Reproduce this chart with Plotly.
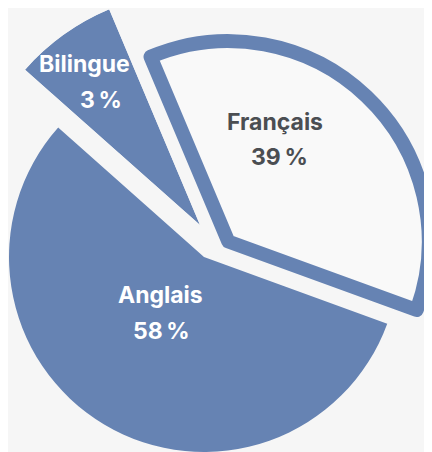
import math
import plotly.graph_objects as go

# ---- data ----
categories = ["Français", "Bilingue", "Anglais"]   # counter-clockwise order on the chart
percent = [39, 3, 58]                             # values printed on the chart
drawn_share = [36.9, 7.1, 56.0]                   # slice sizes as drawn in the picture (% of the circle)
start_angle = -20.0                               # start of first slice, degrees ccw from 3 o'clock

# ---- style / layout ----
PAGE_W, PAGE_H = 432, 452
OFF = 8                     # default page margin of the html body
W, H = PAGE_W - OFF, PAGE_H - OFF
BLUE = "#6683b3"
BG = "#f6f6f6"
FR_FILL = "#f9f9f9"
DARK = "#4b4e52"
FONT = "Inter"

# apex (page px) and radius (px) of each slice
apex = {"Français": (228.3, 241.5), "Anglais": (204.0, 257.0), "Bilingue": (200.0, 225.0)}
radius = {"Français": 200.4, "Anglais": 195.0, "Bilingue": 234.0}
border = {"Français": 14, "Anglais": 0, "Bilingue": 0}
fill = {"Français": FR_FILL, "Anglais": BLUE, "Bilingue": BLUE}


def fx(px):
    return (px - OFF) / W


def fy(py):
    return 1 - (py - OFF) / H


# slice angular boundaries computed from the data
bounds = {}
a = start_angle
for c, s in zip(categories, drawn_share):
    span = s / 100 * 360
    bounds[c] = (a, a + span)
    a += span

fig = go.Figure()

# Français and Anglais as pies (one visible slice each, remainder transparent)
for c in ["Français", "Anglais"]:
    i = categories.index(c)
    a0, a1 = bounds[c]
    cx, cy = apex[c]
    r = radius[c]
    fig.add_trace(go.Pie(
        values=[drawn_share[i], 100 - drawn_share[i]],
        labels=[c, "_rest_" + c],
        sort=False,
        direction="clockwise",
        rotation=((90 - a1 + 180) % 360) - 180,
        marker=dict(colors=[fill[c], "rgba(0,0,0,0)"],
                    line=dict(color=[BLUE, "rgba(0,0,0,0)"], width=[border[c], 0])),
        textinfo="none",
        hoverinfo="skip",
        showlegend=False,
        domain=dict(x=[max(0, fx(cx - r)), min(1, fx(cx + r))],
                    y=[max(0, fy(cy + r)), min(1, fy(cy - r))]),
    ))


# Bilingue as a polar bar in a sector-shaped polar subplot (allows a larger radius)
def sector_bbox(s0, s1):
    xs, ys = [0.0], [0.0]
    for ang in [s0, s1] + [k * 90 for k in range(-4, 8) if s0 < k * 90 < s1]:
        xs.append(math.cos(math.radians(ang)))
        ys.append(math.sin(math.radians(ang)))
    return min(xs), min(ys), max(xs), max(ys)


c = "Bilingue"
a0, a1 = bounds[c]
x0, y0, x1, y1 = sector_bbox(a0, a1)
cx, cy = apex[c]
r = radius[c]
dom = dict(x=[fx(cx + r * x0), fx(cx + r * x1)],
           y=[fy(cy - r * y0), fy(cy - r * y1)])
fig.add_trace(go.Barpolar(
    r=[1], theta=[(a0 + a1) / 2], width=[a1 - a0], base=0,
    marker=dict(color=fill[c], line=dict(width=0)),
    hoverinfo="skip", showlegend=False, subplot="polar",
))
fig.update_layout(polar=dict(
    domain=dom, sector=[a0, a1], hole=0, bgcolor="rgba(0,0,0,0)",
    radialaxis=dict(visible=False, range=[0, 1], showgrid=False),
    angularaxis=dict(visible=False, showgrid=False, rotation=0, direction="counterclockwise"),
))

# ---- labels ----
label_pos = {  # (line1 x, line1 y, line2 x, line2 y) in page px
    "Français": (275, 121.5, 279, 157),
    "Anglais": (160.5, 295, 161, 331),
    "Bilingue": (84, 64.5, 101, 99.5),
}
text_color = {"Français": DARK, "Anglais": "white", "Bilingue": "white"}
anns = []
for c, p in zip(categories, percent):
    x1_, y1_, x2_, y2_ = label_pos[c]
    for txt, xx, yy in [(c, x1_, y1_), (f"{p}\u202f%", x2_, y2_)]:
        anns.append(dict(text=f"<b>{txt}</b>", x=fx(xx), y=fy(yy), xref="paper", yref="paper",
                         xanchor="center", yanchor="middle", showarrow=False,
                         font=dict(family=FONT, size=23, color=text_color[c])))

fig.update_layout(
    width=W, height=H, margin=dict(l=0, r=0, t=0, b=0),
    paper_bgcolor=BG, plot_bgcolor=BG,
    annotations=anns, showlegend=False,
)

fig.write_html("out.html")
